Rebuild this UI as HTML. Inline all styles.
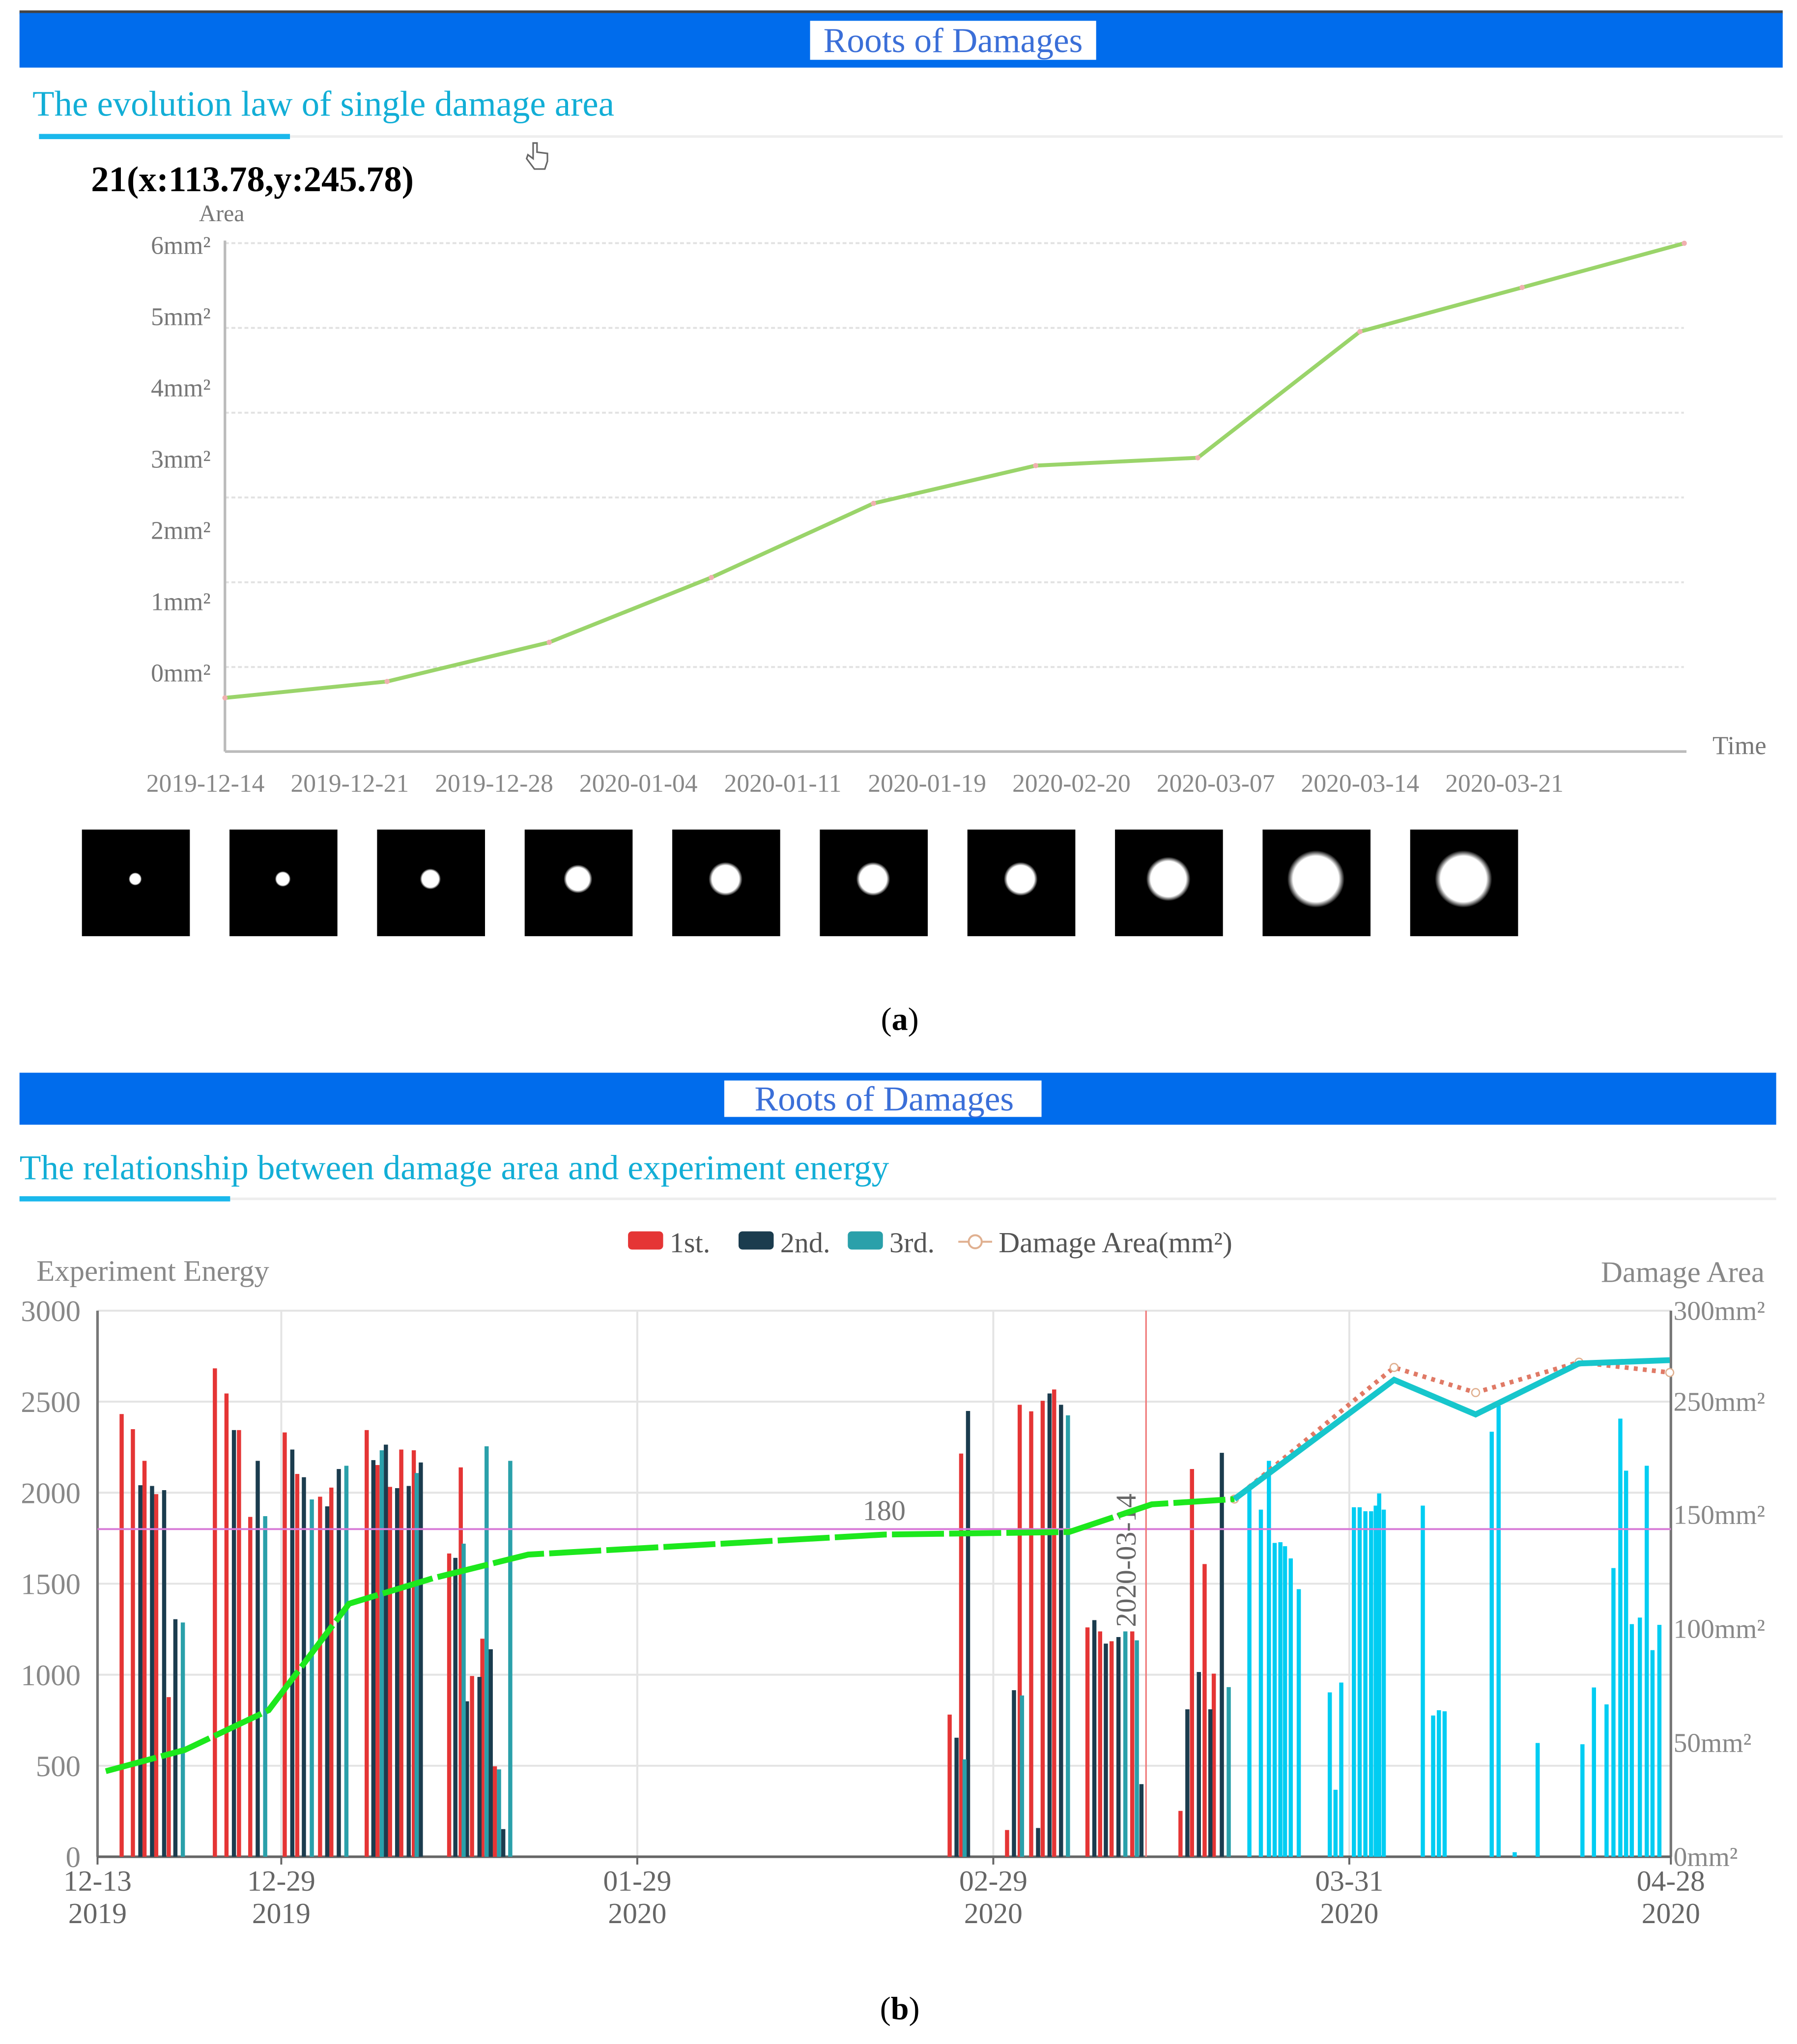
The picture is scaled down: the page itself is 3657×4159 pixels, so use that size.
<!DOCTYPE html>
<html><head><meta charset="utf-8">
<style>
html,body{margin:0;padding:0;background:#fff;}
svg{display:block;font-family:"Liberation Serif",serif;}
</style></head>
<body>
<svg id="root" width="3657" height="4159" viewBox="0 0 1382 1572" preserveAspectRatio="none" xmlns="http://www.w3.org/2000/svg">
<defs>
<radialGradient id="blob" cx="50%" cy="50%" r="50%">
<stop offset="0" stop-color="#fff"/><stop offset="0.8" stop-color="#fff"/><stop offset="1" stop-color="#fff" stop-opacity="0"/>
</radialGradient>
</defs>
<rect x="15" y="8" width="1356" height="3" fill="#444"/>
<rect x="15" y="10" width="1356" height="42" fill="#006cec"/>
<rect x="623" y="16" width="220" height="30" fill="#fff"/>
<text x="733" y="40" font-size="27" fill="#3b6fd8" text-anchor="middle">Roots of Damages</text>
<text x="25" y="89" font-size="27.5" fill="#12aed6">The evolution law of single damage area</text>
<rect x="30" y="104" width="1341" height="2" fill="#eee"/>
<rect x="30" y="103" width="193" height="4" fill="#1ab8ec"/>
<text x="70" y="147" font-size="27.5" font-weight="bold" fill="#000">21(x:113.78,y:245.78)</text>
<path d="M410 110 l0 12 l-4 -3 l-1 3 l6 8 l8 0 l2 -6 l0 -6 l-8 -1 l0 -7 z" fill="#fff" stroke="#666" stroke-width="1.2"/>
<g id="chartA"></g>
<g id="thumbs"></g>
<text x="692" y="792" font-size="25" text-anchor="middle">(<tspan font-weight="bold">a</tspan>)</text>

<rect x="15" y="825" width="1351" height="40" fill="#006cec"/>
<rect x="557" y="831" width="244" height="28" fill="#fff"/>
<text x="680" y="854" font-size="27" fill="#3b6fd8" text-anchor="middle">Roots of Damages</text>
<text x="15" y="907" font-size="27" fill="#12aed6">The relationship between damage area and experiment energy</text>
<rect x="15" y="921" width="1351" height="2" fill="#eee"/>
<rect x="15" y="920" width="162" height="4" fill="#1ab8ec"/>
<g id="chartB"></g>
<text x="692" y="1553" font-size="25" text-anchor="middle">(<tspan font-weight="bold">b</tspan>)</text>
</svg>
<script>
// ---------- Chart A data ----------
const datesA = ["2019-12-14","2019-12-21","2019-12-28","2020-01-04","2020-01-11","2020-01-19","2020-02-20","2020-03-07","2020-03-14","2020-03-21"];
const areaA = [-0.36,-0.13,0.42,1.33,2.37,2.90,3.01,4.78,5.40,6.02];
const yTicksA = ["0mm²","1mm²","2mm²","3mm²","4mm²","5mm²","6mm²"];
const blobSizes = [5,6,8,11,13,13,13,17,22,22];

// ---------- Chart B data ----------
const xTickDays = [0,16,47,78,109,137];
const xTickTop = ["12-13","12-29","01-29","02-29","03-31","04-28"];
const xTickBot = ["2019","2019","2020","2020","2020","2020"];
const yTicksLeft = [0,500,1000,1500,2000,2500,3000];
const yTicksRightVals = [0,50,100,150,250,300];
const yTicksRight = ["0mm²","50mm²","100mm²","150mm²","250mm²","300mm²"];
const firstDays = [2.1,3.08,4.09,5.11,6.2,10.22,11.23,12.32,13.3,16.3,17.39,19.38,20.36,23.44,24.38,25.47,26.45,27.54,30.62,31.63,32.61,33.51,34.6,74.2,75.2,79.2,80.3,81.3,82.3,83.3,86.2,87.3,88.3,90.1,94.3,95.3,96.4,97.2];
const firstVals = [2432,2349,2175,1992,877,2683,2545,2344,1867,2331,2103,1978,2028,2344,2152,2032,2237,2233,1666,2139,993,1198,497,781,2215,147,2483,2447,2505,2567,1260,1238,1184,1238,252,2130,1608,1006];
const secondDays = [3.73,4.75,5.8,6.78,11.88,13.95,16.96,17.97,20.0,21.01,24.02,25.11,26.09,27.1,28.15,31.16,32.17,33.26,34.24,35.33,74.8,75.8,79.8,81.9,82.9,83.9,86.8,87.8,88.9,90.9,94.9,95.9,96.9,97.9];
const secondVals = [2041,2037,2014,1305,2344,2175,2237,2085,1925,2130,2179,2264,2025,2037,2166,1642,854,988,1140,152,654,2449,915,158,2545,2483,1300,1171,1207,399,810,1015,810,2219];
const thirdDays = [7.43,14.6,18.66,21.67,24.75,27.79,31.88,33.88,34.96,35.94,75.5,80.5,84.5,89.5,90.5,98.5];
const thirdVals = [1287,1871,1963,2148,2233,2108,1720,2255,480,2175,535,886,2425,1238,1189,932];
const laterDays = [100.3,101.3,102.0,102.5,103.0,103.4,103.9,104.6,107.3,107.8,108.3,109.4,109.9,110.4,110.9,111.3,111.6,112.0,115.4,116.3,116.8,117.3,121.4,122.0,123.4,125.4,129.3,130.3,131.4,132.0,132.6,133.1,133.6,134.3,134.9,135.4,136.0];
const laterVals = [2014,1907,2175,1724,1728,1706,1639,1470,903,368,957,1920,1920,1898,1898,1929,1996,1907,1929,776,805,799,2335,2478,25,625,618,930,837,1586,2407,2121,1278,1314,2148,1135,1274];
const greenDays = [0.72,7.6,14.9,21.9,29.2,37.5,68.5,84.6,91.8,99];
const greenArea = [47,58.7,80.5,139,153,166,177,178.4,193.6,196.5];
const cyanDays = [99,112.9,120,129,136.9];
const cyanArea = [196.5,262,243,271,272.8];
const dottedDays = [99,112.9,120,129,136.9];
const dottedArea = [196.5,268.8,255,271.7,266];
const thresholdVal = 1800;
const thresholdLabel = "180";
const markerDay = 91.3;
const markerLabel = "2020-03-14";

const NS = "http://www.w3.org/2000/svg";
function mk(parent, tag, attrs, text){
  const e = document.createElementNS(NS, tag);
  for (const k in attrs) e.setAttribute(k, attrs[k]);
  if (text !== undefined) e.textContent = text;
  parent.appendChild(e);
  return e;
}

// ---------- Chart A ----------
(function(){
  const g = document.getElementById('chartA');
  const x0 = 173, x1 = 1297, yBase = 578;
  const xA = i => 173 + i * 124.7;
  const yA = v => 517 - v * 54.8;
  for (let i = 0; i < 6; i++) {
    const gl = mk(g, 'line', {x1: x0, x2: 1295, y1: 187 + i*65.2, y2: 187 + i*65.2, stroke: '#e2e2e2', 'stroke-dasharray': '3 2', 'stroke-width': 1.5});
    
    
  }
  const ya = mk(g, 'line', {x1: x0, x2: x0, y1: 185, y2: yBase, stroke: '#bbb', 'stroke-width': 2});
  
  
  const xa = mk(g, 'line', {x1: x0, x2: x1, y1: yBase, y2: yBase, stroke: '#bbb', 'stroke-width': 2});
  
  
  const at = mk(g, 'text', {x: 153, y: 170, 'font-size': 18, fill: '#777'}, 'Area');
  
  
  const tt = mk(g, 'text', {x: 1317, y: 580, 'font-size': 20, fill: '#777'}, 'Time');
  
  
  yTicksA.forEach((t, i) => {
    const e = mk(g, 'text', {x: 162, y: 524 - i*54.8, 'font-size': 19.5, fill: '#777', 'text-anchor': 'end'}, t);
    
    
  });
  datesA.forEach((d, i) => {
    const e = mk(g, 'text', {x: 158 + i*111, y: 609, 'font-size': 19.5, fill: '#888', 'text-anchor': 'middle'}, d);
    
    
  });
  const pts = areaA.map((v, i) => xA(i) + ',' + yA(v)).join(' ');
  const pl = mk(g, 'polyline', {points: pts, fill: 'none', stroke: '#9ad46a', 'stroke-width': 3});
  
  
  areaA.forEach((v, i) => {
    const c = mk(g, 'circle', {cx: xA(i), cy: yA(v), r: 2, fill: '#f0b0b0'});
    
    
  });
  const tg = document.getElementById('thumbs');
  blobSizes.forEach((r, i) => {
    const bx = 63 + i * 113.5;
    const sq = mk(tg, 'rect', {x: bx, y: 638, width: 83, height: 82, fill: '#000'});
    
    
    const b = mk(tg, 'circle', {cx: bx + 41, cy: 676, r: r, fill: 'url(#blob)'});
    
    
  });
})();

// ---------- Chart B ----------
(function(){
  const g = document.getElementById('chartB');
  const L = 75, R = 1285, T = 1008, B = 1428;
  const xB = d => L + d * (R - L) / 137;
  const yE = v => B - v * (B - T) / 3000;
  const yD = v => B - v * (B - T) / 300;
  const yRightLabel = v => v >= 250 ? B - (v - 250) * 70 / 50 - 350 : B - v * 263 / 150;
  yTicksLeft.forEach((v) => {
    const gl = mk(g, 'line', {x1: L, x2: R, y1: yE(v), y2: yE(v), stroke: '#e4e4e4', 'stroke-width': 1.5});
    
    
    const lt = mk(g, 'text', {x: 62, y: yE(v) + 8, 'font-size': 23, fill: '#888', 'text-anchor': 'end'}, String(v));
    
    
  });
  yTicksRightVals.forEach((v, i) => {
    const rt = mk(g, 'text', {x: 1287, y: yRightLabel(v) + 7, 'font-size': 21, fill: '#888'}, yTicksRight[i]);
    
    
  });
  xTickDays.forEach((d, i) => {
    if (i > 0 && i < xTickDays.length - 1) {
      const vl = mk(g, 'line', {x1: xB(d), x2: xB(d), y1: T, y2: B, stroke: '#e4e4e4', 'stroke-width': 1.5});
      
      
    }
    const tk = mk(g, 'line', {x1: xB(d), x2: xB(d), y1: B, y2: B + 6, stroke: '#666', 'stroke-width': 1.5});
    
    
    const t1 = mk(g, 'text', {x: xB(d), y: 1454, 'font-size': 22.5, fill: '#666', 'text-anchor': 'middle'}, xTickTop[i]);
    
    
    const t2 = mk(g, 'text', {x: xB(d), y: 1479, 'font-size': 22.5, fill: '#666', 'text-anchor': 'middle'}, xTickBot[i]);
    
    
  });
  const la = mk(g, 'line', {x1: L, x2: L, y1: T, y2: B, stroke: '#777', 'stroke-width': 2});
  
  
  const ra = mk(g, 'line', {x1: R, x2: R, y1: T, y2: B, stroke: '#777', 'stroke-width': 2});
  
  
  const ba = mk(g, 'line', {x1: L, x2: R, y1: B, y2: B, stroke: '#666', 'stroke-width': 2});
  
  
  const yl = mk(g, 'text', {x: 28, y: 985, 'font-size': 23, fill: '#888'}, 'Experiment Energy');
  
  
  const yr = mk(g, 'text', {x: 1357, y: 986, 'font-size': 23, fill: '#888', 'text-anchor': 'end'}, 'Damage Area');
  
  

  function bars(days, vals, color, name){
    days.forEach((d, i) => {
      const r = mk(g, 'rect', {x: xB(d) - 1.6, y: yE(vals[i]), width: 3.2, height: B - yE(vals[i]), fill: color});
      
      
    });
  }
  bars(firstDays, firstVals, '#e53535', 'bar-1st');
  bars(secondDays, secondVals, '#1b3c4e', 'bar-2nd');
  bars(thirdDays, thirdVals, '#2aa0aa', 'bar-3rd');
  bars(laterDays, laterVals, '#00cdf2', 'bar-later');

  const th = mk(g, 'line', {x1: L, x2: R, y1: yE(thresholdVal), y2: yE(thresholdVal), stroke: '#d77ad7', 'stroke-width': 1.5});
  
  
  const thl = mk(g, 'text', {x: 680, y: yE(thresholdVal) - 7, 'font-size': 22, fill: '#777', 'text-anchor': 'middle'}, thresholdLabel);
  
  
  const mv = mk(g, 'line', {x1: xB(markerDay), x2: xB(markerDay), y1: T, y2: B, stroke: '#f07a7a', 'stroke-width': 1.2});
  
  
  const ml = mk(g, 'text', {x: 0, y: 0, 'font-size': 22, fill: '#666', 'text-anchor': 'middle', transform: 'translate(' + (xB(markerDay) - 8) + ',1200) rotate(-90)'}, markerLabel);
  
  

  const dp = mk(g, 'polyline', {points: dottedDays.map((d, i) => xB(d) + ',' + yD(dottedArea[i])).join(' '), fill: 'none', stroke: '#e07a66', 'stroke-width': 3.5, 'stroke-dasharray': '3 4'});
  
  
  dottedDays.forEach((d, i) => {
    const c = mk(g, 'circle', {cx: xB(d), cy: yD(dottedArea[i]), r: 3, fill: '#fff', stroke: '#e0b090', 'stroke-width': 1});
    
    
  });
  const gp = mk(g, 'polyline', {points: greenDays.map((d, i) => xB(d) + ',' + yD(greenArea[i])).join(' '), fill: 'none', stroke: '#1de81d', 'stroke-width': 4.5, 'stroke-dasharray': '40 4'});
  
  
  const cp = mk(g, 'polyline', {points: cyanDays.map((d, i) => xB(d) + ',' + yD(cyanArea[i])).join(' '), fill: 'none', stroke: '#17c6cc', 'stroke-width': 4.5});
  
  

  const legend = [['#e53535','1st.',483],['#1b3c4e','2nd.',568],['#2aa0aa','3rd.',652]];
  legend.forEach(l => {
    const r = mk(g, 'rect', {x: l[2], y: 947, width: 27, height: 14, rx: 3, fill: l[0]});
    
    
    const t = mk(g, 'text', {x: l[2] + 32, y: 963, 'font-size': 22, fill: '#555'}, l[1]);
    
    
  });
  const ll = mk(g, 'line', {x1: 737, x2: 763, y1: 955, y2: 955, stroke: '#e0b090', 'stroke-width': 1.5});
  
  
  const lc = mk(g, 'circle', {cx: 750, cy: 955, r: 5, fill: '#fff', stroke: '#e0b090', 'stroke-width': 1.5});
  
  
  const lt = mk(g, 'text', {x: 768, y: 963, 'font-size': 22.5, fill: '#555'}, 'Damage Area(mm²)');
  
  
})();
</script>
</body></html>
